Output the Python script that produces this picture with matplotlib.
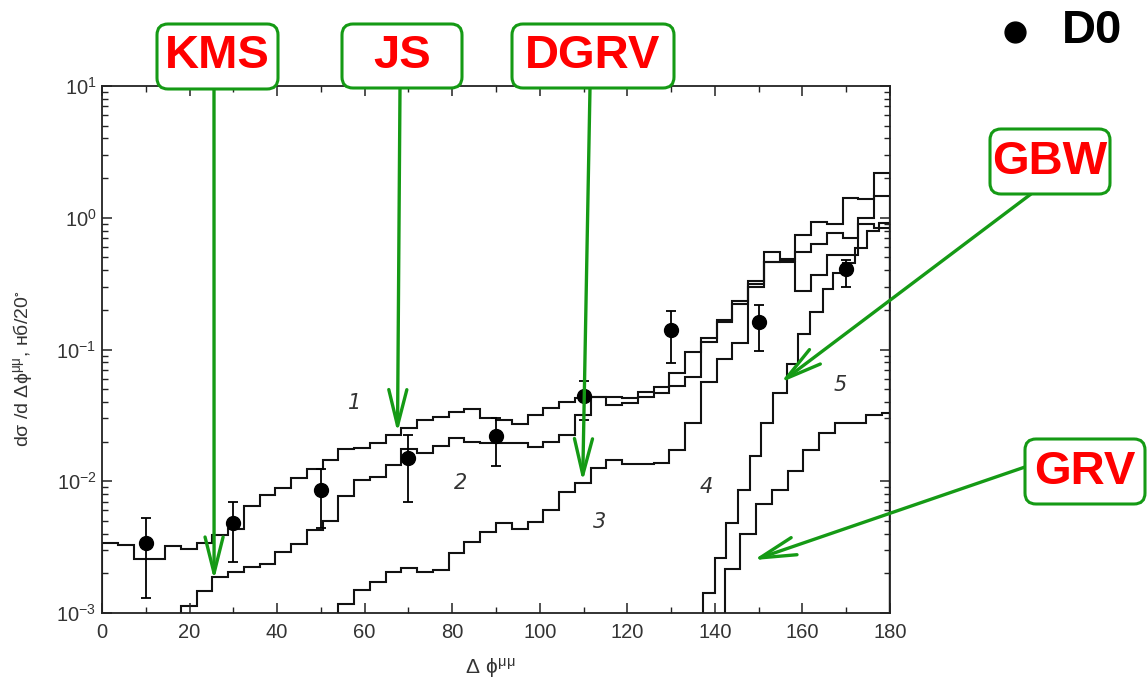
import numpy as np
import matplotlib
matplotlib.use("Agg")
import matplotlib.pyplot as plt
from matplotlib.patches import FancyBboxPatch
from matplotlib.lines import Line2D
from matplotlib.transforms import IdentityTransform
from matplotlib.ticker import MultipleLocator, LogLocator, NullFormatter

plt.rcParams['font.family'] = ['Liberation Sans', 'DejaVu Sans']
plt.rcParams['mathtext.fontset'] = 'dejavusans'
plt.rcParams['mathtext.default'] = 'regular'

# ---------------- data ----------------
bin_width = 3.6  # degrees (50 bins over 0..180)

# curve 1 (bins 0..49)
curve1_first_bin = 0
curve1 = [3.37e-3, 3.27e-3, 2.56e-3, 2.56e-3, 3.22e-3, 3.04e-3, 3.42e-3, 3.88e-3, 4.31e-3, 6.53e-3,
          7.9e-3, 8.9e-3, 1.06e-2, 1.24e-2, 1.45e-2, 1.76e-2, 1.80e-2, 1.96e-2, 2.24e-2, 2.52e-2,
          2.91e-2, 3.08e-2, 3.33e-2, 3.51e-2, 3.03e-2, 2.92e-2, 2.70e-2, 3.18e-2, 3.57e-2, 4.0e-2,
          4.31e-2, 4.37e-2, 4.37e-2, 4.25e-2, 4.77e-2, 5.19e-2, 6.62e-2, 9.55e-2, 0.1217, 0.168,
          0.234, 0.33, 0.55, 0.49, 0.746, 0.925, 0.89, 1.40, 1.38, 2.2]

# curve 2 (bins 5..49)
curve2_first_bin = 5
curve2 = [1.14e-3, 1.47e-3, 1.88e-3, 2.05e-3, 2.24e-3, 2.37e-3, 2.90e-3, 3.36e-3, 4.3e-3, 4.97e-3,
          7.68e-3, 1.03e-2, 1.08e-2, 1.33e-2, 1.76e-2, 1.65e-2, 1.86e-2, 2.14e-2, 2.0e-2, 1.94e-2,
          1.94e-2, 1.94e-2, 1.83e-2, 2.0e-2, 2.24e-2, 3.2e-2, 4.37e-2, 3.78e-2, 3.94e-2, 4.37e-2,
          4.64e-2, 5.28e-2, 6.18e-2, 0.1148, 0.163, 0.22, 0.316, 0.465, 0.47, 0.552,
          0.634, 0.768, 0.70, 0.998, 1.45]

# curve 3 (bins 15..49)
curve3_first_bin = 15
curve3 = [1.18e-3, 1.49e-3, 1.73e-3, 2.05e-3, 2.21e-3, 2.03e-3, 2.12e-3, 2.86e-3, 3.47e-3, 4.11e-3,
          4.84e-3, 4.31e-3, 4.90e-3, 6.03e-3, 8.22e-3, 9.68e-3, 1.26e-2, 1.45e-2, 1.35e-2, 1.35e-2,
          1.37e-2, 1.73e-2, 2.75e-2, 5.7e-2, 8.4e-2, 0.112, 0.30, 0.46, 0.46, 0.279,
          0.368, 0.52, 0.52, 0.89, 0.84]

# curve 4 (own binning)
curve4_edges = [137.2, 140.1, 142.6, 145.2, 148.1, 150.6, 153.3, 156.5, 159.0, 161.7,
                164.6, 167.0, 169.3, 172.0, 174.7, 177.5, 180.0]
curve4 = [1.43e-3, 2.63e-3, 4.84e-3, 8.63e-3, 1.56e-2, 2.78e-2, 4.64e-2, 7.8e-2, 0.131, 0.191,
          0.287, 0.38, 0.45, 0.59, 0.79, 0.91]

# curve 5 (half-bin shifted)
curve5_edges = [142.2, 145.8, 149.4, 153.0, 156.6, 160.2, 163.8, 167.4, 171.0, 174.6, 178.2, 180.0]
curve5 = [2.17e-3, 4.0e-3, 6.73e-3, 8.63e-3, 1.20e-2, 1.73e-2, 2.33e-2, 2.75e-2, 2.75e-2, 3.18e-2, 3.27e-2]

# D0 data
d0_x = [10, 30, 50, 70, 90, 110, 130, 150, 170]
d0_y = [3.37e-3, 4.78e-3, 8.63e-3, 1.50e-2, 2.20e-2, 4.42e-2, 0.141, 0.161, 0.406]
d0_hi = [5.27e-3, 6.92e-3, 1.24e-2, 2.24e-2, 3.0e-2, 5.77e-2, 0.195, 0.219, 0.48]
d0_lo = [1.31e-3, 2.42e-3, 4.44e-3, 6.92e-3, 1.31e-2, 2.91e-2, 7.89e-2, 9.82e-2, 0.299]

# curve number labels
num_labels = ['1', '2', '3', '4', '5']
num_x = [57.8, 81.8, 113.7, 138.0, 168.6]
num_y = [0.039, 9.7e-3, 4.9e-3, 9.0e-3, 5.4e-2]

# model annotations (label, arrow target x, arrow target y)
model_names = ['KMS', 'JS', 'DGRV', 'GBW', 'GRV']
model_tip_x = [25.6, 67.5, 109.8, 155.0, 148.8]
model_tip_y = [1.78e-3, 2.34e-2, 9.93e-3, 5.6e-2, 2.52e-3]

# ---------------- figure ----------------
W, H = 1147, 698
fig = plt.figure(figsize=(W / 100, H / 100), dpi=100)
fig.patch.set_facecolor('white')

L, R, T, B = 102, 890, 86, 613
ax = fig.add_axes([L / W, 1 - B / H, (R - L) / W, (B - T) / H])
ax.set_yscale('log')
ax.set_xlim(0, 180)
ax.set_ylim(1e-3, 10)

line_kw = dict(color='#111111', lw=1.5, baseline=1e-6)


def grid_edges(first_bin, n):
    return (np.arange(first_bin, first_bin + n + 1)) * bin_width


ax.stairs(curve1, grid_edges(curve1_first_bin, len(curve1)), **line_kw)
ax.stairs(curve2, grid_edges(curve2_first_bin, len(curve2)), **line_kw)
ax.stairs(curve3, grid_edges(curve3_first_bin, len(curve3)), **line_kw)
ax.stairs(curve4, curve4_edges, **line_kw)
ax.stairs(curve5, curve5_edges, **line_kw)

yv = np.array(d0_y)
yerr = [yv - np.array(d0_lo), np.array(d0_hi) - yv]
ax.errorbar(d0_x, d0_y, yerr=yerr, fmt='o', color='black', ms=10,
            capsize=3.5, elinewidth=1.3, capthick=1.3, zorder=5)

for t, x, y in zip(num_labels, num_x, num_y):
    ax.text(x, y, t, fontsize=15, style='italic', color='#333333',
            ha='center', va='center', family='DejaVu Sans')

# axes styling
for sp in ax.spines.values():
    sp.set_linewidth(1.3)
    sp.set_color('#222222')
ax.xaxis.set_major_locator(MultipleLocator(20))
ax.xaxis.set_minor_locator(MultipleLocator(10))
ax.yaxis.set_major_locator(LogLocator(base=10, numticks=10))
ax.yaxis.set_minor_locator(LogLocator(base=10, subs=np.arange(2, 10), numticks=100))
ax.yaxis.set_minor_formatter(NullFormatter())
ax.tick_params(which='both', direction='in', top=True, right=True, colors='#222222',
               labelcolor='#333333', labelsize=14.5)
ax.tick_params(which='major', length=7, width=1.1)
ax.tick_params(which='minor', length=4, width=1.0)
ax.tick_params(axis='x', pad=7)
ax.tick_params(axis='y', pad=4)

fig.text(22 / W, 1 - 369 / H, r'd$\sigma$ /d $\Delta\phi^{\mu\mu}$, нб/20$^{\circ}$',
         rotation=90, ha='center', va='center', fontsize=14, color='#333333')
fig.text(490 / W, 1 - 668 / H, r'$\Delta\ \phi^{\mu\mu}$', ha='center', va='center',
         fontsize=15, color='#333333')

# annotation boxes
green = '#159a15'
box_px = [(157, 24, 278, 89), (342, 24, 462, 88), (512, 24, 674, 88),
          (990, 129, 1110, 194), (1025, 439, 1145, 504)]
arrow_start_px = [(214, 89), (400, 88), (590, 88), (1031, 194), (1025, 467)]

for name, (x0, y0, x1, y1), (sx, sy), tx, ty in zip(model_names, box_px, arrow_start_px,
                                                     model_tip_x, model_tip_y):
    patch = FancyBboxPatch((x0, H - y1), x1 - x0, y1 - y0,
                           boxstyle='round,pad=0,rounding_size=11',
                           transform=IdentityTransform(), facecolor='white',
                           edgecolor=green, linewidth=2.2, zorder=10)
    fig.add_artist(patch)
    fig.text((x0 + x1) / 2 / W, 1 - (y0 + y1) / 2 / H, name, ha='center', va='center',
             color='#ff0000', fontsize=34, fontweight='bold', zorder=11)
    ax.annotate('', xy=(tx, ty), xycoords='data',
                xytext=(sx, H - sy), textcoords='figure pixels',
                arrowprops=dict(arrowstyle='->,head_length=2.6,head_width=0.65',
                                color=green, lw=2.4, mutation_scale=10,
                                shrinkA=0, shrinkB=0),
                annotation_clip=False, zorder=9)

# legend-like D0 marker
fig.add_artist(Line2D([1015], [H - 32], marker='o', ms=15, color='black',
                      transform=IdentityTransform()))
fig.text(1062 / W, 1 - 31 / H, 'D0', ha='left', va='center', fontsize=34,
         fontweight='bold', color='black')

fig.savefig('out.png', dpi=100, facecolor='white')
